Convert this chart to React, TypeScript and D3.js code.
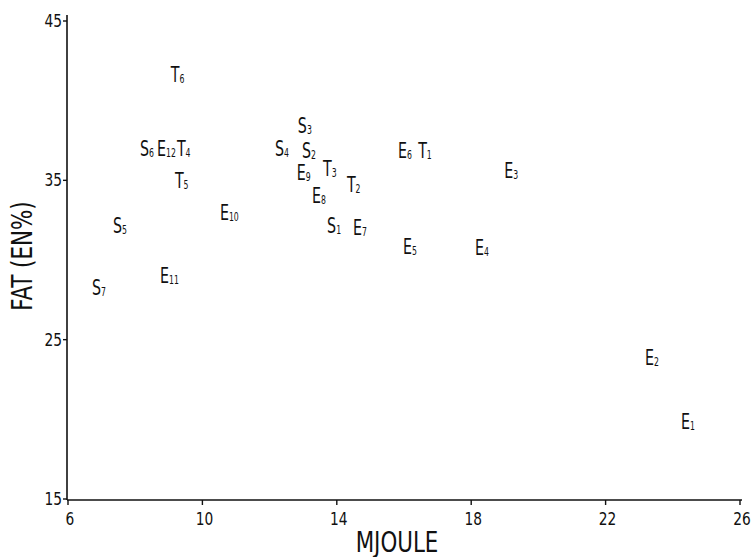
import { useRef, useEffect } from 'react';
import * as d3 from 'd3';

// group letter + index, energy (MJ) and fat (EN%)
const pointLabels = ['T6', 'S6', 'E12', 'T4', 'T5', 'E10', 'S5', 'E11', 'S7', 'S3', 'S4', 'S2', 'E9', 'T3', 'T2', 'E8', 'S1', 'E7', 'E6', 'T1', 'E3', 'E5', 'E4', 'E2', 'E1'];
const mjoule = [9.21, 8.29, 8.8, 9.39, 9.33, 10.67, 7.49, 8.89, 6.86, 12.99, 12.31, 13.11, 12.96, 13.74, 14.45, 13.41, 13.86, 14.63, 15.97, 16.57, 19.13, 16.12, 18.26, 23.32, 24.39];
const fatPct = [41.7, 37.0, 37.0, 37.0, 35.0, 33.0, 32.2, 29.06, 28.3, 38.5, 37.0, 36.9, 35.5, 35.8, 34.8, 34.1, 32.2, 32.1, 36.9, 36.9, 35.65, 30.9, 30.8, 23.9, 19.9];

const xTicks = [6, 10, 14, 18, 22, 26];
const yTicks = [15, 25, 35, 45];

const FONT = "'DejaVu Sans Condensed', 'DejaVu Sans', sans-serif";
const INK = '#111';

export default function App() {
  const svgRef = useRef<SVGSVGElement>(null);

  useEffect(() => {
    if (!svgRef.current) return;
    const svg = d3.select(svgRef.current);
    svg.selectAll('*').remove();

    const x = d3.scaleLinear().domain([6, 26]).range([68, 740]);
    const y = d3.scaleLinear().domain([15, 45]).range([499, 21]);

    svg.append('rect').attr('width', 752).attr('height', 557).attr('fill', '#fff');

    // axes
    const axisG = svg.append('g').attr('stroke', INK).attr('fill', 'none');
    axisG.append('line')
      .attr('x1', 67).attr('x2', 67).attr('y1', 15).attr('y2', 500)
      .attr('stroke-width', 1.6);
    axisG.append('line')
      .attr('x1', 67).attr('x2', 742).attr('y1', 500).attr('y2', 500)
      .attr('stroke-width', 1.6);

    axisG.selectAll('line.yt').data(yTicks).join('line')
      .attr('class', 'yt')
      .attr('x1', 63).attr('x2', 67)
      .attr('y1', (d) => y(d)).attr('y2', (d) => y(d))
      .attr('stroke-width', 1.4);
    axisG.selectAll('line.xt').data(xTicks).join('line')
      .attr('class', 'xt')
      .attr('x1', (d) => x(d)).attr('x2', (d) => x(d))
      .attr('y1', 500).attr('y2', 505)
      .attr('stroke-width', 1.4);

    svg.selectAll('text.ytl').data(yTicks).join('text')
      .attr('class', 'ytl')
      .attr('transform', (d) => `translate(62,${y(d) + 6}) scale(0.85,1)`)
      .attr('text-anchor', 'end')
      .attr('fill', INK).style('font-family', FONT).style('font-size', '18px')
      .text((d) => d);
    svg.selectAll('text.xtl').data(xTicks).join('text')
      .attr('class', 'xtl')
      .attr('transform', (d) => `translate(${x(d) + 2},525) scale(0.85,1)`)
      .attr('text-anchor', 'middle')
      .attr('fill', INK).style('font-family', FONT).style('font-size', '18px')
      .text((d) => d);

    // axis titles
    svg.append('text')
      .attr('transform', 'translate(397,552) scale(0.85,1)')
      .attr('text-anchor', 'middle')
      .attr('fill', INK).style('font-family', FONT).style('font-size', '28px')
      .text('MJOULE');
    svg.append('text')
      .attr('transform', 'translate(32, 256) rotate(-90) scale(0.85,1)')
      .attr('text-anchor', 'middle')
      .attr('fill', INK).style('font-family', FONT).style('font-size', '28px')
      .text('FAT (EN%)');

    // point labels: letter with subscript index
    const pts = pointLabels.map((lab, i) => ({ letter: lab[0], idx: lab.slice(1), mj: mjoule[i], fat: fatPct[i] }));
    const lbl = svg.selectAll('text.pt').data(pts).join('text')
      .attr('class', 'pt')
      .attr('transform', (d) => `translate(${x(d.mj) - 5},${y(d.fat) + 8}) scale(0.72,1)`)
      .attr('fill', INK).style('font-family', FONT).style('font-size', '22px');
    lbl.append('tspan').text((d) => d.letter);
    lbl.append('tspan').attr('dy', 1).style('font-size', '12px').text((d) => d.idx);
  }, []);

  return (
    <svg ref={svgRef} width={752} height={557} style={{ position: 'absolute', left: 0, top: 0 }} />
  );
}
